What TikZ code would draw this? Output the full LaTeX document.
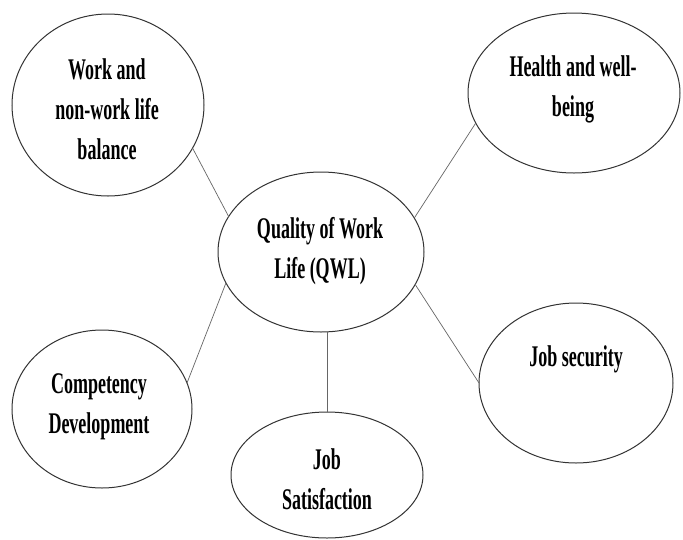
\documentclass[tikz,border=0pt]{standalone}
\usepackage{fontspec}
\usepackage{graphicx}
\setmainfont{Liberation Serif}
\usetikzlibrary{shapes.geometric}
\newcommand\condtext[1]{\scalebox{0.6}[1]{\begin{tabular}{@{}c@{}}#1\end{tabular}}}
\tikzset{
  bubble/.style={ellipse, draw=black!80, line width=1pt, inner sep=0pt, outer sep=0pt},
  lbl/.style={inner sep=0pt, font=\fontsize{30}{40}\selectfont\bfseries},
  link/.style={draw=black!60, line width=0.7pt}
}
\begin{document}
\begin{tikzpicture}[x=1pt,y=-1pt]
\useasboundingbox[fill=white] (0,0) rectangle (683,539);
% ellipses
\node[bubble, minimum width=192pt, minimum height=182pt] (A) at (108,105) {};
\node[bubble, minimum width=212pt, minimum height=160pt] (B) at (574,93) {};
\node[bubble, minimum width=206pt, minimum height=160pt] (C) at (321,252) {};
\node[bubble, minimum width=180pt, minimum height=158pt] (D) at (102,409) {};
\node[bubble, minimum width=194pt, minimum height=160pt] (E) at (576,383) {};
\node[bubble, minimum width=192pt, minimum height=126pt] (F) at (327,475) {};
% texts
\node[lbl] (tA) at (107,111) {\condtext{Work and\\non-work life\\balance}};
\node[lbl] (tB) at (573,88) {\condtext{Health and well-\\being}};
\node[lbl] (tC) at (320,250) {\condtext{Quality of Work\\Life (QWL)}};
\node[lbl] (tD) at (99,405) {\condtext{Competency\\Development}};
\node[lbl] (tE) at (576,358) {\condtext{Job security}};
\node[lbl] (tF) at (327,481) {\condtext{Job\\Satisfaction}};
% connectors
\draw[link] (A.-27) -- (C.159);
\draw[link] (B.197) -- (C.20);
\draw[link] (D.17) -- (C.198);
\draw[link] (E.180) -- (C.-19);
\draw[link] (F.north) -- (F.north |- C.south);
\end{tikzpicture}
\end{document}
